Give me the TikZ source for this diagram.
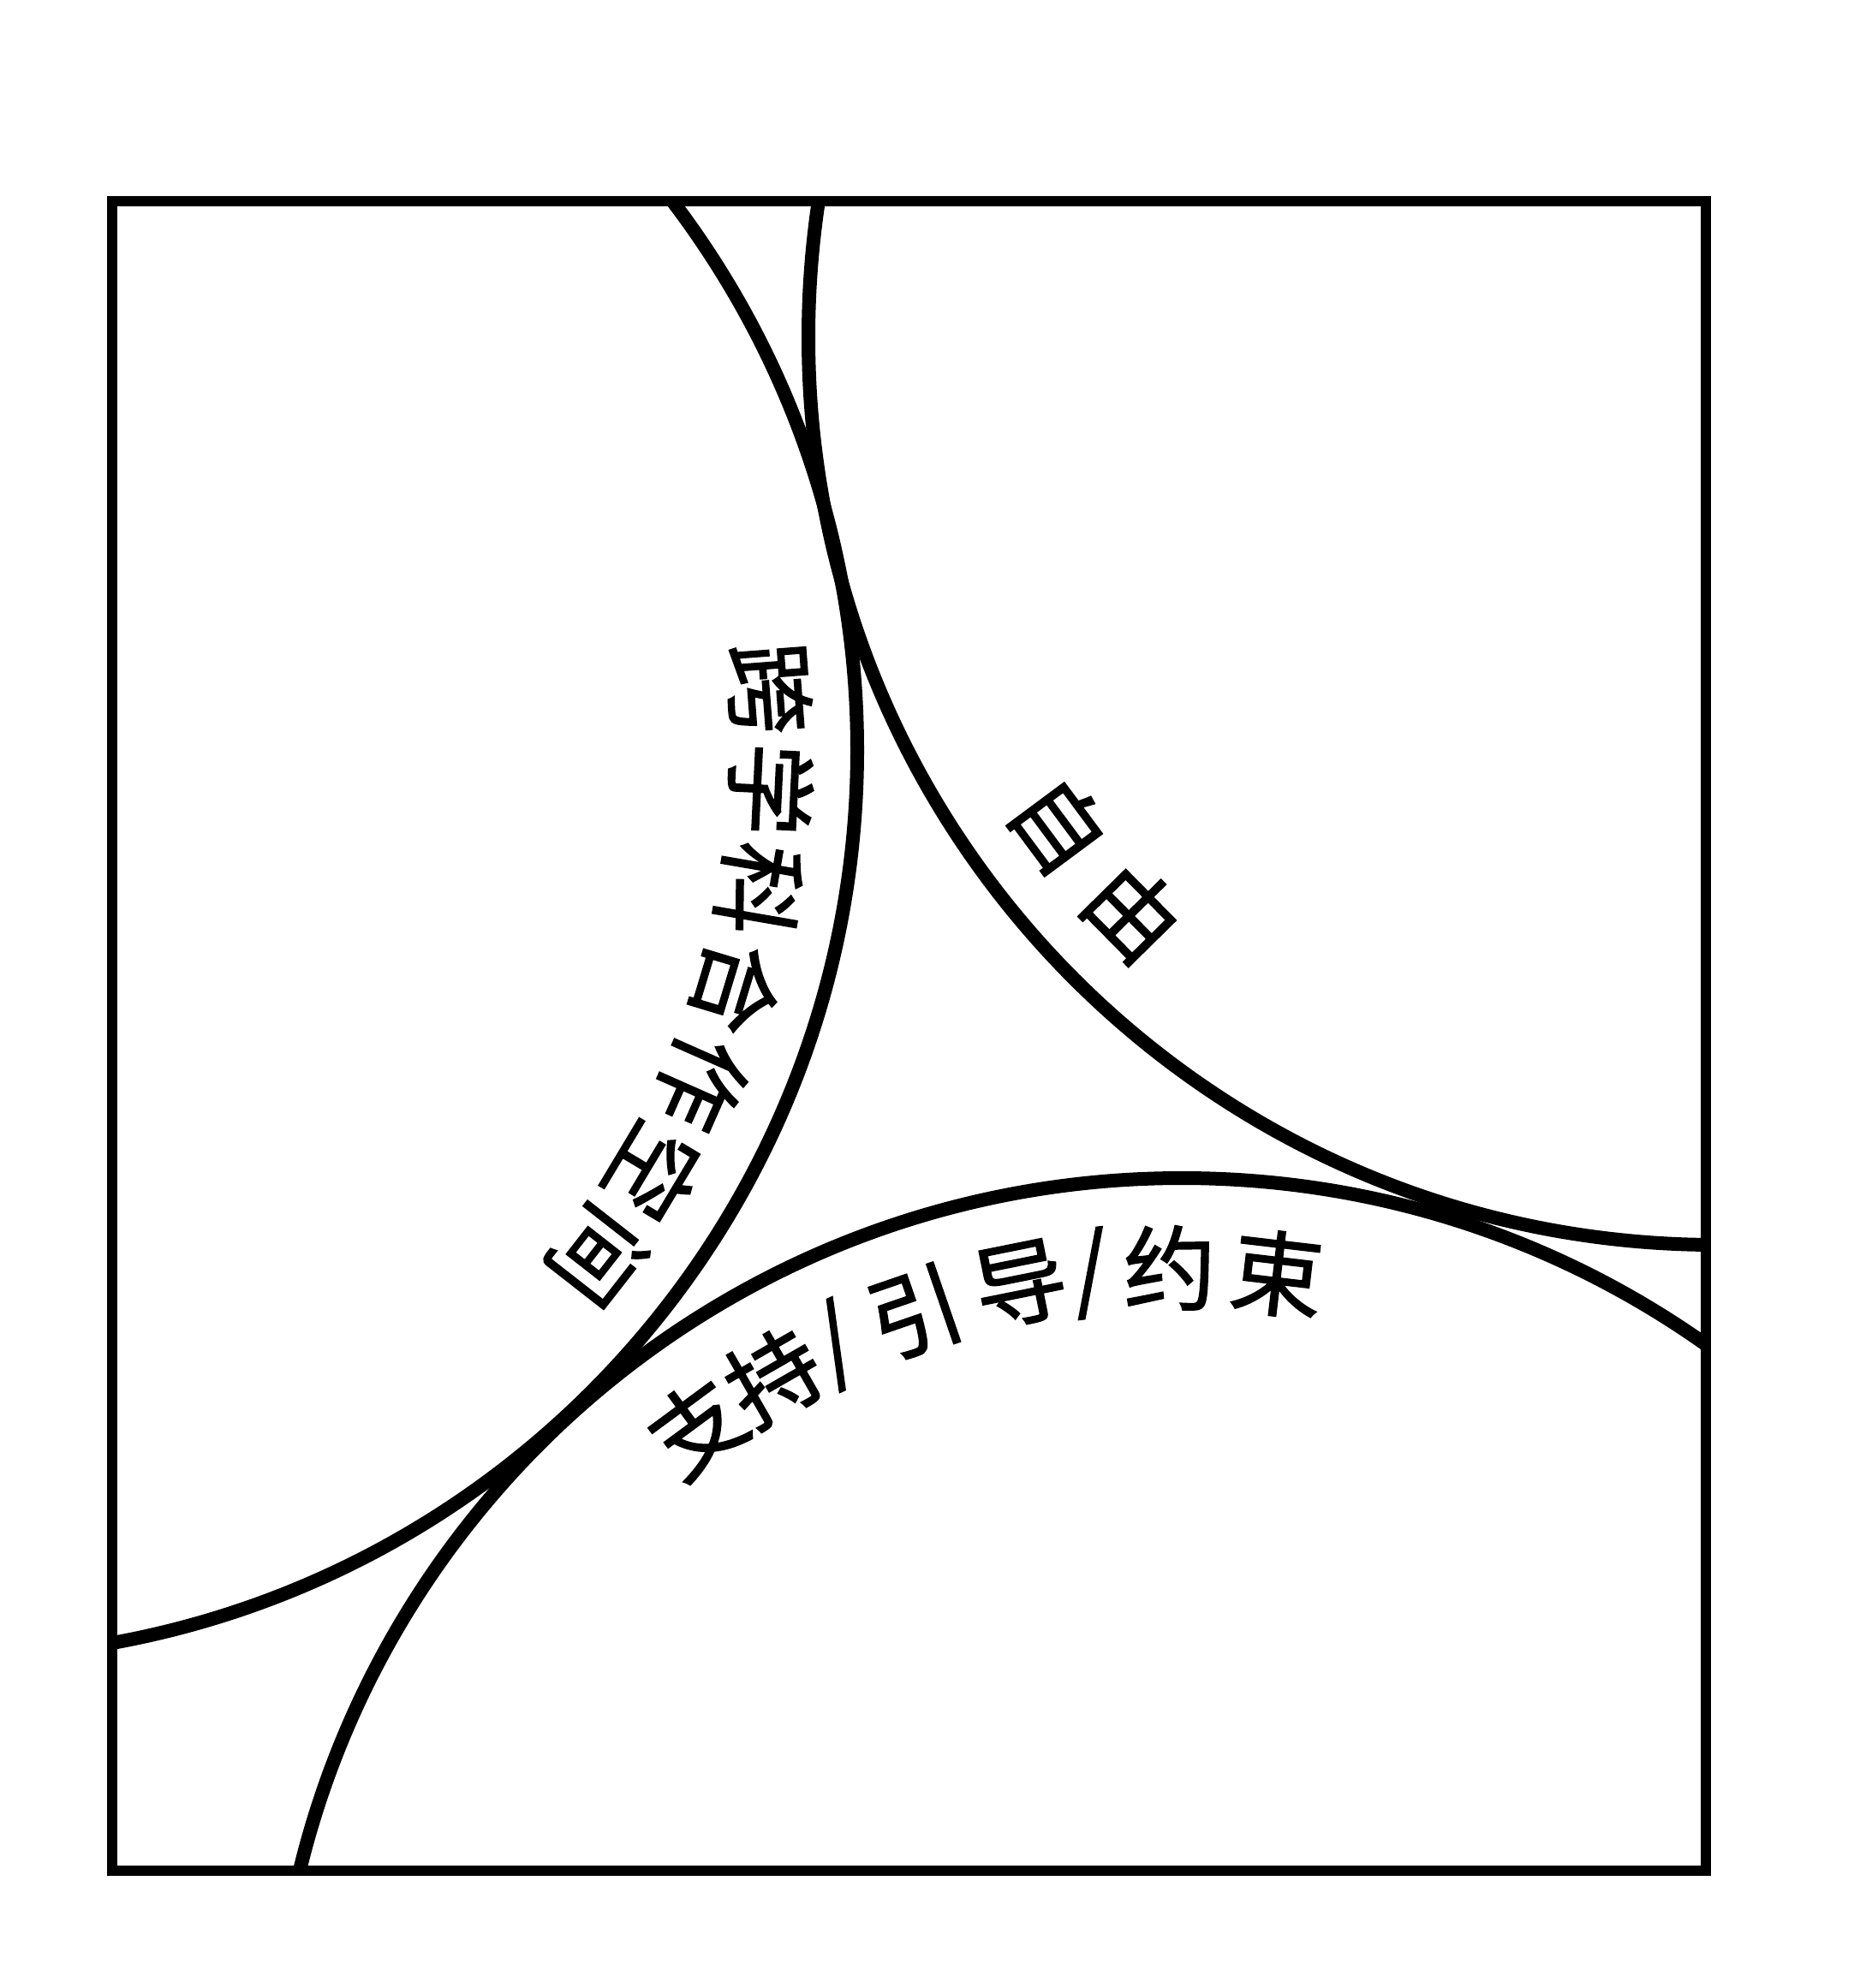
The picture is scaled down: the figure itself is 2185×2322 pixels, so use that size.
\documentclass[tikz,border=0pt]{standalone}
\usepackage{fontspec}
\newfontfamily\cjk[FakeBold=1.5]{Noto Sans CJK SC}
\usetikzlibrary{calc}
\begin{document}
\begin{tikzpicture}[x=0.25pt,y=-0.25pt,
  ring/.style={draw=black,line width=4pt},
  frame/.style={draw=black,line width=3pt},
  lbl/.style={inner sep=0pt,font=\cjk\fontsize{27}{27}\selectfont}]
\useasboundingbox (0,0) rectangle (2185,2322);
\coordinate (A) at (-59,876);
\coordinate (B) at (2004,394);
\coordinate (C) at (1380,2436);
\begin{scope}
\clip (130.5,235) rectangle (1991.7,2185);
\draw[ring] (A) circle[radius=1060];
\draw[ring] (B) circle[radius=1060];
\draw[ring] (C) circle[radius=1060];
\end{scope}
\draw[frame] (130.5,235) rectangle (1991.7,2185);
% circle A text
\foreach \ch [count=\i from 0] in {跨,学,科,合,作,空,间}{
  \pgfmathsetmacro{\ang}{-4.3+7.05*\i}
  \pgfmathsetmacro{\rot}{-\ang-90}
  \node[lbl,rotate=\rot] (a\i) at ($(A)+(\ang:960)$) {\ch};
}
% circle B text
\node[lbl,rotate=-53.4] (b0) at ($(B)+(143.4:956)$) {自};
\node[lbl,rotate=-45.4] (b1) at ($(B)+(135.4:956)$) {由};
% circle C text
\foreach \ch/\ang [count=\i from 0] in {支/-126.4,持/-119.9,{/}/-115,引/-109,导/-101.4,{/}/-96.4,约/-90.85,束/-83.3}{
  \pgfmathsetmacro{\rot}{-\ang-90}
  \node[lbl,rotate=\rot] (c\i) at ($(C)+(\ang:955)$) {\ch};
}
\end{tikzpicture}
\end{document}
